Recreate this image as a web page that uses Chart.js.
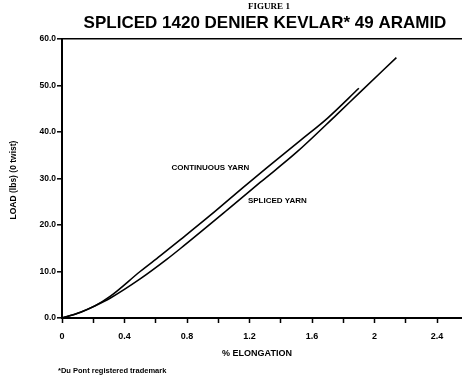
<!DOCTYPE html>
<html>
<head>
<meta charset="utf-8">
<script src="https://cdn.jsdelivr.net/npm/chart.js@4.4.1/dist/chart.umd.min.js"></script>
<style>
    html, body { margin: 0; padding: 0; background: #fff; }
    canvas { display: block; }
</style>
</head>
<body>
<canvas id="kevlarChart" width="462" height="380"></canvas>
<script>
// % elongation vs load (lbs)
const continuousX = [0, 0.10, 0.21, 0.31, 0.50, 0.63, 0.76, 0.95, 1.16, 1.31, 1.53, 1.70, 1.90];
const continuousLoad = [0, 1.0, 2.6, 4.7, 10.0, 13.4, 16.9, 22.1, 28.1, 32.3, 38.3, 43.0, 49.4];

const splicedX = [0, 0.10, 0.21, 0.31, 0.50, 0.67, 0.76, 1.06, 1.27, 1.50, 1.76, 1.90, 2.14];
const splicedLoad = [0, 1.0, 2.6, 4.3, 8.4, 12.6, 15.0, 23.3, 29.2, 35.6, 43.8, 48.3, 56.0];

const xTickLabels = ['0', '0.4', '0.8', '1.2', '1.6', '2', '2.4'];
const yTickLabels = ['0.0', '10.0', '20.0', '30.0', '40.0', '50.0', '60.0'];

// in-plot curve labels (placed in data units)
const curveLabels = ['CONTINUOUS YARN', 'SPLICED YARN'];
const curveLabelX = [0.70, 1.19];
const curveLabelY = [32.3, 25.2];

const SANS = '"Liberation Sans", Arial, sans-serif';

const toPoints = (xs, ys) => xs.map((x, i) => ({ x: x, y: ys[i] }));

const figureText = {
    id: 'figureText',
    afterDraw(chart) {
        const { ctx, scales } = chart;
        ctx.save();
        ctx.fillStyle = '#000';
        ctx.textBaseline = 'middle';

        ctx.textAlign = 'center';
        ctx.font = 'bold 9px "Liberation Serif", serif';
        ctx.fillText('FIGURE 1', 269, 7);

        ctx.font = 'bold 17px ' + SANS;
        ctx.fillText('SPLICED 1420 DENIER KEVLAR* 49 ARAMID', 265, 23);

        ctx.font = 'bold 9px ' + SANS;
        ctx.fillText('% ELONGATION', 257, 354);

        // y axis title
        ctx.save();
        ctx.translate(14, 180);
        ctx.rotate(-Math.PI / 2);
        ctx.font = 'bold 8.5px ' + SANS;
        ctx.fillText('LOAD (lbs) (0 twist)', 0, 0);
        ctx.restore();

        ctx.textAlign = 'left';
        ctx.font = 'bold 7.5px ' + SANS;
        ctx.fillText('*Du Pont registered trademark', 58, 371);

        ctx.font = 'bold 8px ' + SANS;
        curveLabels.forEach((txt, i) => {
            ctx.fillText(txt, scales.x.getPixelForValue(curveLabelX[i]), scales.y.getPixelForValue(curveLabelY[i]));
        });
        ctx.restore();
    }
};

new Chart(document.getElementById('kevlarChart'), {
    type: 'scatter',
    data: {
        datasets: [
            {
                label: 'Continuous yarn',
                data: toPoints(continuousX, continuousLoad),
                showLine: true,
                borderColor: '#000',
                borderWidth: 1.6,
                pointRadius: 0,
                cubicInterpolationMode: 'monotone',
                fill: false
            },
            {
                label: 'Spliced yarn',
                data: toPoints(splicedX, splicedLoad),
                showLine: true,
                borderColor: '#000',
                borderWidth: 1.6,
                pointRadius: 0,
                cubicInterpolationMode: 'monotone',
                fill: false
            }
        ]
    },
    options: {
        responsive: false,
        animation: false,
        devicePixelRatio: 1,
        layout: {
            padding: { top: 39, right: 0, bottom: 0, left: 0 }
        },
        plugins: {
            legend: { display: false },
            tooltip: { enabled: false },
            title: { display: false }
        },
        scales: {
            x: {
                type: 'linear',
                min: 0,
                max: 2.56,
                afterFit: (scale) => { scale.height = 62; },
                border: { display: true, color: '#000', width: 2 },
                grid: {
                    drawOnChartArea: false,
                    drawTicks: true,
                    tickLength: 5,
                    tickColor: '#000',
                    tickWidth: 1.5
                },
                ticks: {
                    stepSize: 0.2,
                    autoSkip: false,
                    includeBounds: false,
                    maxRotation: 0,
                    padding: 8,
                    color: '#000',
                    font: { family: SANS, size: 9, weight: 'bold' },
                    callback: (value) => {
                        const i = Math.round(value / 0.2);
                        return i % 2 === 0 ? xTickLabels[i / 2] : '';
                    }
                }
            },
            y: {
                min: 0,
                max: 60,
                afterFit: (scale) => { scale.width = 62; },
                border: { display: true, color: '#000', width: 2 },
                grid: {
                    drawOnChartArea: true,
                    color: (ctx) => (ctx.tick && ctx.tick.value === 60 ? '#000' : 'rgba(0,0,0,0)'),
                    lineWidth: 1.6,
                    tickLength: 5,
                    tickColor: '#000',
                    tickWidth: 1.5
                },
                ticks: {
                    stepSize: 10,
                    padding: 1,
                    color: '#000',
                    font: { family: SANS, size: 8.5, weight: 'bold' },
                    callback: (value, index) => yTickLabels[index]
                }
            }
        }
    },
    plugins: [figureText]
});
</script>
</body>
</html>
